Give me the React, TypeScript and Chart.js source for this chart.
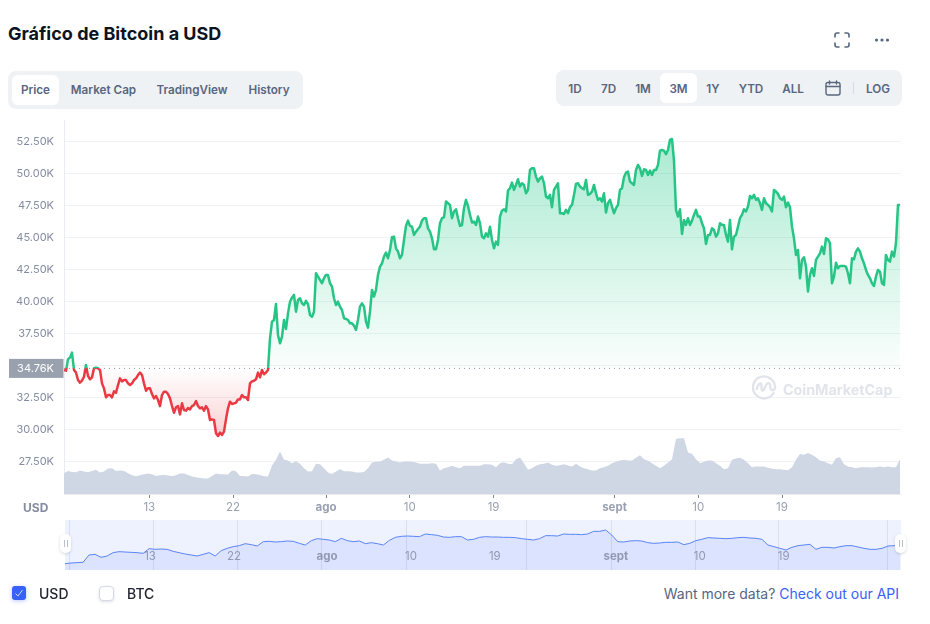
import React, { useEffect, useRef } from "react";
import { Chart, registerables } from "chart.js";

Chart.register(...registerables);

const FONT = "Inter, 'Noto Sans', sans-serif";

// Prices in thousands of USD at an even time step.
const priceK: number[] = [
  34.64,34.58,35.47,35.60,35.99,34.64,34.43,33.85,33.65,33.80,
  34.11,35.03,34.17,33.91,34.06,34.77,34.82,34.77,34.64,33.59,
  33.20,32.50,32.68,32.68,32.50,32.97,32.86,33.46,33.98,33.75,
  33.85,33.85,33.59,33.46,33.59,33.85,33.98,34.24,34.43,34.24,
  33.59,33.02,33.20,33.20,32.76,32.42,32.60,32.29,31.82,32.68,
  32.94,32.94,32.76,32.42,31.82,31.30,31.72,31.82,31.17,32.03,
  31.51,31.46,31.67,31.56,31.82,31.90,32.21,31.82,31.64,31.72,
  31.46,31.82,31.56,30.73,30.78,30.73,29.69,29.48,29.74,29.56,
  29.82,30.78,31.64,32.16,31.98,32.03,32.08,32.34,32.34,32.68,
  32.50,32.50,32.29,33.59,33.75,33.80,33.91,34.43,34.06,34.64,
  34.30,34.43,34.64,
  37.11,38.41,38.54,39.79,37.37,36.72,37.24,38.54,37.84,39.06,
  39.97,40.29,40.50,39.19,40.10,40.24,39.84,39.71,40.03,39.77,
  38.93,38.80,39.19,42.19,41.93,41.67,41.41,41.80,42.06,42.06,
  41.41,41.15,40.24,39.71,39.97,39.58,39.32,38.67,38.62,38.54,
  38.28,38.28,38.10,37.76,38.54,39.58,39.84,39.58,38.41,37.94,
  39.19,40.89,40.37,40.89,42.06,42.71,42.97,43.49,
  43.80,43.36,44.01,45.00,45.05,44.14,43.88,43.36,43.62,44.79,
  45.89,46.30,45.89,45.83,45.18,45.44,45.65,45.83,46.30,46.49,
  46.49,45.70,45.44,44.92,44.06,44.06,44.79,46.10,46.49,46.56,
  47.79,47.66,47.53,46.49,47.01,47.19,46.49,45.89,45.96,47.27,
  47.92,47.45,46.75,46.15,46.23,45.96,46.62,46.10,45.05,44.92,
  45.31,45.05,45.83,44.79,44.14,44.66,44.40,46.62,47.08,47.19,
  47.01,48.65,48.83,49.27,48.70,49.09,49.53,48.96,49.22,49.09,
  48.44,48.70,50.26,50.39,50.39,49.74,49.35,49.61,49.74,49.22,
  48.18,48.05,48.31,47.35,48.70,48.96,49.22,46.88,46.88,46.82,
  47.14,46.88,47.35,47.53,48.31,49.17,49.22,48.96,48.83,48.75,
  49.48,48.31,48.39,48.57,49.09,48.44,47.92,48.05,47.79,48.44,
  46.93,47.66,
  47.92,47.40,46.88,47.27,47.53,48.70,48.83,49.69,50.05,50.13,
  49.35,49.22,49.09,50.26,50.65,50.39,49.79,50.31,50.26,49.87,
  50.21,49.87,50.26,50.26,50.65,51.77,51.82,51.77,51.49,51.82,
  52.61,52.68,50.99,47.14,46.62,47.19,45.26,46.35,45.96,46.49,
  45.96,46.30,46.75,47.14,46.62,46.62,46.10,45.70,44.48,45.18,
  45.18,45.70,45.57,45.05,45.31,46.10,45.96,45.96,45.18,44.66,
  46.35,44.06,45.05,45.18,45.83,46.49,46.75,47.19,47.01,47.40,
  48.23,48.05,48.31,47.92,48.05,47.66,47.14,48.05,47.66,47.53,
  47.35,47.01,48.70,48.57,48.39,48.05,47.92,48.18,47.35,47.71,
  47.35,45.83,44.92,43.62,44.01,41.80,43.23,43.44,42.71,40.76,
  42.06,42.58,41.98,43.23,43.49,43.75,44.27,43.70,44.92,44.84,
  44.53,41.41,41.93,43.02,42.58,42.76,42.76,42.76,42.71,42.19,
  41.41,43.36,43.28,43.88,44.14,43.88,43.36,42.97,42.45,42.06,
  41.80,41.41,41.20,41.93,42.45,42.32,41.41,41.28,43.62,43.23,
  43.10,43.88,43.49,44.53,47.53,47.53,
];

// Volume in billions of USD.
const volumeB: number[] = [
  15.5,17.25,16.5,16.25,17.5,16.75,16.25,17.25,18,16,
  16.75,19,19.25,17.25,17.5,17.25,15.5,14,13.25,14,
  14.75,15.25,14.75,13.5,14,14.25,13.75,13.5,14,15.25,
  15.25,14.25,13,12.5,12,11.5,11.5,13.5,15.25,14.75,
  14.75,14.5,17.5,17,13.5,13.5,13,15,14.75,14.25,
  13.25,13,21.25,25.5,31.75,25.5,25,23,24.5,22.5,
  19.25,16.75,
  17,22.5,22.25,19.25,16,15,16.75,18.5,17,17,
  16.75,16,16,16.5,19.25,23.5,24,24.25,25.5,27.25,
  25,24.25,23.5,24.25,24.25,24,23.5,22.5,22.5,22.5,
  23,22.5,17.5,19.25,20,21,20,19.25,21,21,
  21,21,21,22.25,22.25,21.75,20,23,23.75,22.5,
  22.25,26,27.25,23,18,19.25,21,22.25,22.5,23.5,
  21.75,21,21.5,22.25,21.25,20.5,22.5,20.5,19.25,18.5,
  17.5,17.5,19.25,20,21,
  23,24,25,25.5,25,25,27,29,26,24.75,
  23,21,19.25,21,23.5,26,41,41.5,41.5,31,
  30,26,23,24,25,25,23,21,18.5,19.25,
  25.5,26.5,27,25.5,23,20,20.5,20.5,20.5,19.5,
  18.75,18.5,18.5,18,17.75,20,25.5,29.75,29.25,30.5,
  29.25,27.5,25,24.25,23,21.75,26.75,27.5,22.25,20.5,
  20,19.25,20,20,20,19.75,20,20.5,20,20.5,
  20,20,26,
];

// Overview strip at the bottom, thousands of USD.
const overviewK: number[] = [
  7.6,8.4,8.8,9.2,18,18.8,15.2,16.8,20.8,22,
  21.6,21.2,20.8,20,25.6,24.8,25.2,24.8,22.4,20.8,
  19.2,18,16.8,18.8,20.8,16.8,23.2,26,28,29.2,
  31.6,30.4,28.8,34,34.4,33.6,34,34.8,34.4,32,30,
  35.2,37.6,36.8,36,34,38,35.2,34,34.8,31.6,
  32.8,31.6,30,35.6,39.2,40.4,40.8,40.4,40,43.2,
  42.4,41.6,39.6,39.2,40,40,36,36.8,39.2,40,
  39.6,39.6,39.2,39.2,38.8,37.6,36.8,36,37.6,41.2,
  41.2,40.8,43.2,42.8,42.8,42.4,43.2,46.4,46.4,48,
  42,34,33.6,34.8,35.2,34.8,32.8,32,32.4,33.2,
  33.2,33.6,30.4,32,35.2,36.8,38.8,38.4,38,37.6,
  38,38.8,39.2,38.4,38,36.8,30,28,26,24,
  27.2,29.2,30,30.8,24.8,27.2,27.2,26.4,28,29.2,
  29.2,27.6,26,24.8,24.8,26,28.8,29.2,28.4,
];

const baselineK = 34.76;
const yTicks = [27.5, 30, 32.5, 35, 37.5, 40, 42.5, 45, 47.5, 50, 52.5];
const xTickDays = [13, 22, 32, 41, 50, 63, 72, 81];
const xTickLabels = ["13", "22", "ago", "10", "19", "sept", "10", "19"];
const monthLabels = ["ago", "sept"];
const overviewGridDays = [4.4, 13.4, 22.4, 31.4, 40.5, 53.4, 62.5, 71.5, 80.5, 92.1];

const firstDay = 3.83;
const lastDay = 93.79;
const priceStep = (93.68 - firstDay) / (priceK.length - 1);
const volumeStep = (93.68 - firstDay) / (volumeB.length - 1);
const overviewStep = (93.5 - 3.87) / (overviewK.length - 1);

const yMin = 24.95;
const yMax = 54.16;
const volumeMax = 279;

const GREEN = "#26c485";
const RED = "#ea3943";

const CANVAS_TOP = 108;
const PAD_TOP = 12;
const BOTTOM_H = 26;
const CANVAS_H = 412;

const labelBase: React.CSSProperties = {
  position: "absolute",
  whiteSpace: "nowrap",
  fontFamily: FONT,
};

function Centered({ x, y, text, size = 11.7, weight = 600, color = "#58667e" }: any) {
  return (
    <span
      style={{
        ...labelBase,
        left: x,
        top: y,
        transform: "translate(-50%,-50%)",
        fontSize: size,
        fontWeight: weight,
        color,
      }}
    >
      {text}
    </span>
  );
}

function Handle({ left }: { left: number }) {
  return (
    <div
      style={{
        position: "absolute",
        left,
        top: 534,
        width: 11,
        height: 19,
        background: "#fff",
        borderRadius: 5,
        boxShadow: "0 1px 3px rgba(88,102,126,.25)",
      }}
    >
      <div style={{ position: "absolute", left: 3.5, top: 6, width: 1, height: 7, background: "#b8c0ce" }} />
      <div style={{ position: "absolute", left: 6.5, top: 6, width: 1, height: 7, background: "#b8c0ce" }} />
    </div>
  );
}

export default function App() {
  const mainRef = useRef<HTMLCanvasElement>(null);
  const navRef = useRef<HTMLCanvasElement>(null);

  useEffect(() => {
    const canvas = mainRef.current!;
    const ctx = canvas.getContext("2d")!;
    const areaTop = PAD_TOP;
    const areaBottom = CANVAS_H - BOTTOM_H;
    const toPx = (v: number) => areaTop + ((yMax - v) / (yMax - yMin)) * (areaBottom - areaTop);
    const basePx = toPx(baselineK);
    const ratio = (basePx - areaTop) / (areaBottom - areaTop);

    const lineGrad = ctx.createLinearGradient(0, areaTop, 0, areaBottom);
    lineGrad.addColorStop(0, GREEN);
    lineGrad.addColorStop(ratio, GREEN);
    lineGrad.addColorStop(ratio, RED);
    lineGrad.addColorStop(1, RED);

    const above = ctx.createLinearGradient(0, toPx(52.5), 0, basePx);
    above.addColorStop(0, "rgba(22,199,132,0.36)");
    above.addColorStop(1, "rgba(22,199,132,0.02)");
    const below = ctx.createLinearGradient(0, basePx, 0, toPx(29.5));
    below.addColorStop(0, "rgba(234,57,67,0)");
    below.addColorStop(1, "rgba(234,57,67,0.24)");

    const baselinePlugin = {
      id: "baseline",
      afterDatasetsDraw(chart: any) {
        const { ctx: c, chartArea, scales } = chart;
        const y = scales.y.getPixelForValue(baselineK);
        c.save();
        c.strokeStyle = "#8f97a8";
        c.lineWidth = 1;
        c.setLineDash([1, 4]);
        c.beginPath();
        c.moveTo(chartArea.left, y);
        c.lineTo(chartArea.right, y);
        c.stroke();
        c.restore();
      },
      afterDraw(chart: any) {
        const { ctx: c, chartArea, scales } = chart;
        const y = scales.y.getPixelForValue(baselineK);
        c.save();
        c.fillStyle = "#9aa1ae";
        c.fillRect(9, y - 9.5, chartArea.left - 9.5, 19);
        c.fillStyle = "#ffffff";
        c.font = `11px ${FONT}`;
        c.textAlign = "center";
        c.textBaseline = "middle";
        c.fillText(`${baselineK.toFixed(2)}K`, 35.5, y + 0.5);
        c.restore();
      },
    };

    const main = new Chart(canvas, {
      type: "line",
      data: {
        datasets: [
          {
            data: priceK.map((y, i) => ({ x: firstDay + i * priceStep, y })),
            borderColor: lineGrad,
            borderWidth: 2.5,
            borderJoinStyle: "round",
            pointRadius: 0,
            tension: 0,
            fill: { target: { value: baselineK }, above, below },
            yAxisID: "y",
          },
          {
            data: volumeB.map((y, i) => ({ x: firstDay + i * volumeStep, y })),
            borderWidth: 0,
            backgroundColor: "#cfd6e4",
            pointRadius: 0,
            tension: 0,
            fill: "origin",
            yAxisID: "y2",
          },
        ],
      } as any,
      options: {
        responsive: false,
        animation: false,
        layout: { padding: { top: PAD_TOP, right: 14, left: 0, bottom: 0 } },
        plugins: { legend: { display: false }, tooltip: { enabled: false } },
        events: [],
        scales: {
          x: {
            type: "linear",
            min: firstDay,
            max: lastDay,
            border: { color: "#e9ecf1" },
            grid: { drawOnChartArea: false, drawTicks: true, tickLength: 4, tickColor: "#7d8698" },
            afterBuildTicks: (a: any) => {
              a.ticks = xTickDays.map((value) => ({ value }));
            },
            afterFit: (a: any) => {
              a.height = BOTTOM_H;
              a.paddingLeft = 0;
              a.paddingRight = 0;
            },
            ticks: {
              autoSkip: false,
              maxRotation: 0,
              padding: 3,
              color: "#98a0b1",
              callback: (v: any) => xTickLabels[xTickDays.indexOf(Number(v))] ?? "",
              font: (c: any) => {
                const label = xTickLabels[xTickDays.indexOf(c.tick?.value)];
                const bold = monthLabels.includes(label);
                return { family: FONT, size: 11.5, weight: bold ? "bold" : "normal" };
              },
            },
          },
          y: {
            type: "linear",
            min: yMin,
            max: yMax,
            border: { color: "#e9ecf1" },
            grid: { color: "#eff2f5", drawTicks: false },
            afterBuildTicks: (a: any) => {
              a.ticks = yTicks.map((value) => ({ value }));
            },
            afterFit: (a: any) => {
              a.width = 64;
              a.paddingTop = 0;
              a.paddingBottom = 0;
            },
            ticks: {
              autoSkip: false,
              padding: 10,
              color: "#858ca2",
              font: { family: FONT, size: 11 },
              callback: (v: any) => `${Number(v).toFixed(2)}K`,
            },
          },
          y2: { type: "linear", display: false, min: 0, max: volumeMax },
        },
      } as any,
      plugins: [baselinePlugin],
    });

    const navPlugin = {
      id: "nav",
      beforeDraw(chart: any) {
        const { ctx: c, chartArea: a } = chart;
        c.save();
        c.fillStyle = "#eef2fe";
        c.fillRect(a.left, a.top, a.width, a.height);
        c.restore();
      },
      afterDraw(chart: any) {
        const { ctx: c, chartArea: a, scales } = chart;
        c.save();
        c.textAlign = "center";
        c.textBaseline = "middle";
        c.fillStyle = "rgba(120,130,152,.75)";
        xTickDays.forEach((d, i) => {
          const bold = monthLabels.includes(xTickLabels[i]);
          c.font = `${bold ? "bold " : ""}11.5px ${FONT}`;
          c.fillText(xTickLabels[i], scales.x.getPixelForValue(d), a.bottom - 13.5);
        });
        c.restore();
      },
    };

    const nav = new Chart(navRef.current!, {
      type: "line",
      data: {
        datasets: [
          {
            data: overviewK.map((y, i) => ({ x: 3.87 + i * overviewStep, y })),
            borderColor: "#5b84f6",
            borderWidth: 1,
            backgroundColor: "rgba(56,97,251,0.1)",
            pointRadius: 0,
            tension: 0,
            fill: "origin",
          },
        ],
      } as any,
      options: {
        responsive: false,
        animation: false,
        events: [],
        layout: { padding: 0 },
        plugins: { legend: { display: false }, tooltip: { enabled: false } },
        scales: {
          x: {
            type: "linear",
            min: 3.87,
            max: 93.6,
            border: { display: false },
            grid: { color: "#d7def5", drawTicks: false },
            afterBuildTicks: (a: any) => {
              a.ticks = overviewGridDays.map((value) => ({ value }));
            },
            afterFit: (a: any) => {
              a.height = 0;
            },
            ticks: { display: false },
          },
          y: { type: "linear", display: false, min: 0, max: 60 },
        },
      } as any,
      plugins: [navPlugin],
    });

    return () => {
      main.destroy();
      nav.destroy();
    };
  }, []);

  return (
    <div style={{ position: "absolute", left: 0, top: 0, width: 930, height: 624, overflow: "hidden", background: "#fff" }}>
      <span style={{ ...labelBase, left: 8, top: 33, transform: "translateY(-50%)", fontSize: 18, fontWeight: 700, color: "#0d1421" }}>
        Gráfico de Bitcoin a USD
      </span>

      <svg style={{ position: "absolute", left: 834, top: 32 }} width="16" height="16" viewBox="0 0 16 16" fill="none" stroke="#58667e" strokeWidth="1.6" strokeLinecap="round">
        <path d="M1 5V3a2 2 0 0 1 2-2h2M11 1h2a2 2 0 0 1 2 2v2M15 11v2a2 2 0 0 1-2 2h-2M5 15H3a2 2 0 0 1-2-2v-2" />
      </svg>
      <svg style={{ position: "absolute", left: 874, top: 37 }} width="16" height="6" viewBox="0 0 16 6" fill="#58667e">
        <circle cx="2.5" cy="3" r="1.6" />
        <circle cx="8" cy="3" r="1.6" />
        <circle cx="13.5" cy="3" r="1.6" />
      </svg>

      <div style={{ position: "absolute", left: 8, top: 71, width: 295, height: 38, background: "#eff2f5", borderRadius: 8 }} />
      <div style={{ position: "absolute", left: 12, top: 75, width: 47, height: 30, background: "#fff", borderRadius: 6 }} />
      <Centered x={35.5} y={90} text="Price" />
      <Centered x={103.5} y={90} text="Market Cap" />
      <Centered x={192} y={90} text="TradingView" />
      <Centered x={269} y={90} text="History" />

      <div style={{ position: "absolute", left: 556, top: 70, width: 346, height: 36, background: "#eff2f5", borderRadius: 8 }} />
      <div style={{ position: "absolute", left: 660, top: 73, width: 37, height: 30, background: "#fff", borderRadius: 6 }} />
      <Centered x={575} y={88.5} text="1D" />
      <Centered x={608.5} y={88.5} text="7D" />
      <Centered x={643} y={88.5} text="1M" />
      <Centered x={678.5} y={88.5} text="3M" />
      <Centered x={713} y={88.5} text="1Y" />
      <Centered x={751} y={88.5} text="YTD" />
      <Centered x={793} y={88.5} text="ALL" />
      <svg style={{ position: "absolute", left: 825, top: 80 }} width="16" height="16" viewBox="0 0 16 16" fill="none" stroke="#58667e" strokeWidth="1.4" strokeLinecap="round">
        <rect x="1" y="2.5" width="14" height="12.5" rx="2" />
        <path d="M1 6.5H15M4.5 1V4M11.5 1V4" />
      </svg>
      <div style={{ position: "absolute", left: 853, top: 82, width: 1, height: 12, background: "#d5dae3" }} />
      <Centered x={878} y={88.5} text="LOG" />

      <canvas ref={mainRef} width={915} height={CANVAS_H} style={{ position: "absolute", left: 0, top: CANVAS_TOP, width: 915, height: CANVAS_H }} />

      <svg style={{ position: "absolute", left: 752, top: 375 }} width="25" height="25" viewBox="0 0 25 25" fill="none" stroke="#e1e5eb" strokeWidth="2.4" strokeLinecap="round" strokeLinejoin="round">
        <path d="M21.5 18a11 11 0 1 1 1.5-6c0 2.5-1.6 3.6-3 3.2-1.6-.5-1.8-2-1.8-4 0-2-1-3.4-2.2-3-1.4.4-2.6 3-3.6 5.3-.6 1.4-1.4 2.4-2.3 2 -.9-.4-.6-2.6-.5-4.3 .1-1.7-.6-3-1.8-2.6-1.2.4-2.3 3-3 5.2" />
      </svg>
      <span style={{ ...labelBase, left: 783, top: 389, transform: "translateY(-50%)", fontSize: 14.3, fontWeight: 700, color: "#e1e5eb" }}>
        CoinMarketCap
      </span>

      <span style={{ ...labelBase, left: 23, top: 507, transform: "translateY(-50%)", fontSize: 12, fontWeight: 700, color: "#858ca2" }}>USD</span>

      <canvas ref={navRef} width={836} height={50} style={{ position: "absolute", left: 65, top: 520, width: 836, height: 50 }} />
      <Handle left={60} />
      <Handle left={895} />

      <div style={{ position: "absolute", left: 12, top: 586, width: 14, height: 14, borderRadius: 3, background: "#3861fb", boxShadow: "0 1px 4px rgba(56,97,251,.35)" }}>
        <svg width="14" height="14" viewBox="0 0 14 14" fill="none" stroke="#c9d5fe" strokeWidth="1">
          <path d="M3.5 7.5 6 10l4.5-6" />
        </svg>
      </div>
      <span style={{ ...labelBase, left: 39, top: 593, transform: "translateY(-50%)", fontSize: 14, fontWeight: 500, color: "#222531" }}>USD</span>
      <div style={{ position: "absolute", left: 98.5, top: 585.5, width: 15, height: 15, boxSizing: "border-box", borderRadius: 4, background: "#fff", border: "1px solid #d5dae6", boxShadow: "0 1px 3px rgba(88,102,126,.2)" }} />
      <span style={{ ...labelBase, left: 127, top: 593, transform: "translateY(-50%)", fontSize: 14, fontWeight: 500, color: "#222531" }}>BTC</span>

      <span style={{ ...labelBase, right: 31, top: 593, transform: "translateY(-50%)", fontSize: 14, color: "#58667e" }}>
        Want more data? <span style={{ color: "#3861fb" }}>Check out our API</span>
      </span>
    </div>
  );
}
